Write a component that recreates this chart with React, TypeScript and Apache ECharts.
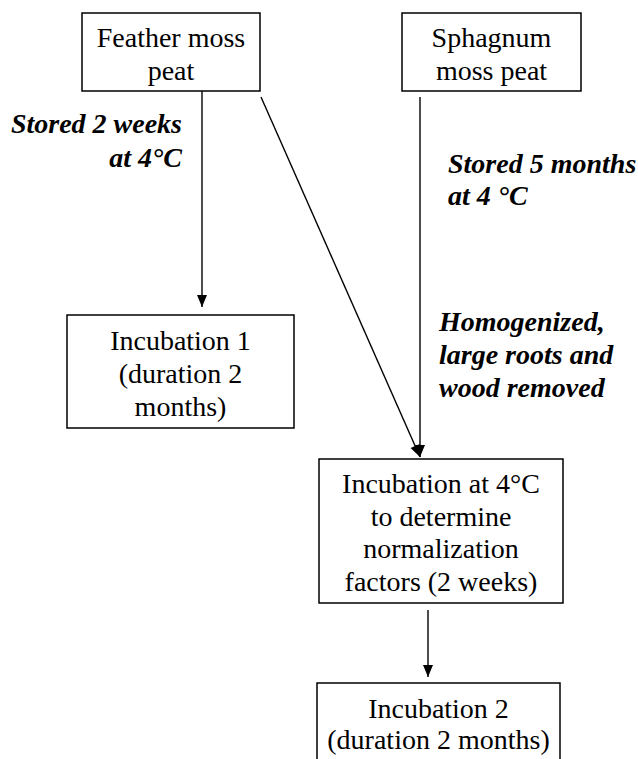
import React, { useEffect, useRef } from "react";
import * as echarts from "echarts";

// ---- content (text of the flowchart) ----
const boxLabels: string[][] = [
  ["Feather moss", "peat"],
  ["Sphagnum", "moss peat"],
  ["Incubation 1", "(duration 2", "months)"],
  ["Incubation at 4°C", "to determine", "normalization", "factors (2 weeks)"],
  ["Incubation 2", "(duration 2 months)"],
];
const stepLabels: string[][] = [
  ["Stored 2 weeks", "at 4°C"],
  ["Stored 5 months", "at 4 °C"],
  ["Homogenized,", "large roots and", "wood removed"],
];
// arrows: [fromBox, toBox]
const links: number[][] = [
  [0, 2],
  [1, 3],
  [0, 3],
  [3, 4],
];

// ---- layout (positions / sizes) ----
const boxLayout = [
  { x: 82, y: 13, w: 178, h: 78, mid: 37, gap: 33.5 },
  { x: 402, y: 13, w: 179, h: 78, mid: 37, gap: 33.5 },
  { x: 67, y: 315, w: 227, h: 113, mid: 340.5, gap: 33 },
  { x: 319, y: 459, w: 244, h: 144, mid: 483.5, gap: 32.5 },
  { x: 317, y: 683, w: 243, h: 110, mid: 708.5, gap: 30.5 },
];
const stepLayout = [
  { x: 182, mid: 123.5, gap: 33.5, align: "right" },
  { x: 448, mid: 163.5, gap: 32, align: "left" },
  { x: 439, mid: 321.5, gap: 33, align: "left" },
];
const linkLayout = [
  { x1: 202, y1: 91, x2: 202, y2: 307 },
  { x1: 420, y1: 97, x2: 420, y2: 457 },
  { x1: 261, y1: 97, x2: 420, y2: 457 },
  { x1: 428, y1: 610, x2: 428, y2: 677 },
];

const FONT = "Liberation Serif";

function arrowHead(x1: number, y1: number, x2: number, y2: number) {
  const dx = x2 - x1;
  const dy = y2 - y1;
  const len = Math.sqrt(dx * dx + dy * dy);
  const ux = dx / len;
  const uy = dy / len;
  const L = 12;
  const W = 5;
  const bx = x2 - ux * L;
  const by = y2 - uy * L;
  return [
    [x2, y2],
    [bx - uy * W, by + ux * W],
    [bx + uy * W, by - ux * W],
  ];
}

export default function App() {
  const ref = useRef<HTMLDivElement>(null);
  useEffect(() => {
    if (!ref.current) return;
    const chart = echarts.init(ref.current, undefined, { renderer: "svg" });
    const elements: any[] = [];

    boxLabels.forEach((lines, i) => {
      const b = boxLayout[i];
      elements.push({
        type: "rect",
        shape: { x: b.x, y: b.y, width: b.w, height: b.h },
        style: { fill: "#fff", stroke: "#000", lineWidth: 1.5 },
      });
      lines.forEach((t, j) => {
        elements.push({
          type: "text",
          x: b.x + b.w / 2,
          y: b.mid + j * b.gap,
          style: {
            text: t,
            fill: "#000",
            fontSize: 28,
            fontFamily: FONT,
            align: "center",
            verticalAlign: "middle",
          },
        });
      });
    });

    stepLabels.forEach((lines, i) => {
      const s = stepLayout[i];
      lines.forEach((t, j) => {
        elements.push({
          type: "text",
          x: s.x,
          y: s.mid + j * s.gap,
          style: {
            text: t,
            fill: "#000",
            fontSize: 28,
            fontFamily: FONT,
            fontWeight: "bold",
            fontStyle: "italic",
            align: s.align,
            verticalAlign: "middle",
          },
        });
      });
    });

    links.forEach((_, i) => {
      const l = linkLayout[i];
      elements.push({
        type: "line",
        shape: { x1: l.x1, y1: l.y1, x2: l.x2, y2: l.y2 },
        style: { stroke: "#000", lineWidth: 1.4 },
      });
      elements.push({
        type: "polygon",
        shape: { points: arrowHead(l.x1, l.y1, l.x2, l.y2) },
        style: { fill: "#000" },
      });
    });

    chart.setOption({
      animation: false,
      backgroundColor: "#fff",
      graphic: { elements },
    });
    return () => chart.dispose();
  }, []);
  return (
    <div
      ref={ref}
      style={{ position: "fixed", left: 0, top: 0, width: 638, height: 759 }}
    />
  );
}
